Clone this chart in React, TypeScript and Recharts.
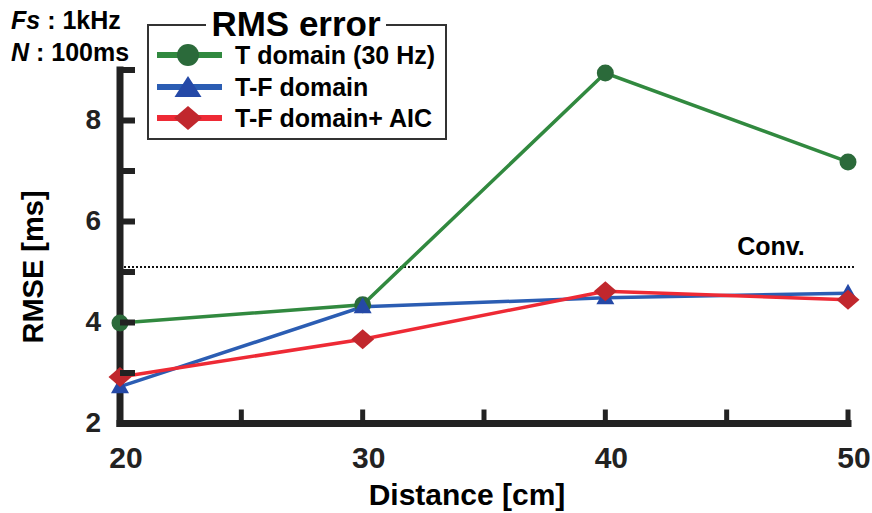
import React from 'react';
import { LineChart, Line, XAxis, YAxis, ReferenceLine, Legend, Label } from 'recharts';

const distances = [20, 30, 40, 50];
const tDomain = [3.99, 4.35, 8.94, 7.18];
const tfDomain = [2.73, 4.31, 4.49, 4.58];
const tfDomainAic = [2.92, 3.67, 4.62, 4.45];
const convValue = 5.1;
const xTicks = [20, 25, 30, 35, 40, 45, 50];
const xLabeled = [20, 30, 40, 50];
const yTicks = [2, 3, 4, 5, 6, 7, 8, 9];
const yLabeled = [2, 4, 6, 8];
const seriesNames = ['T domain (30 Hz)', 'T-F domain', 'T-F domain+ AIC'];

const data = distances.map((d, i) => ({
  d,
  t: tDomain[i],
  tf: tfDomain[i],
  aic: tfDomainAic[i],
}));

const FONT = '"Liberation Sans", Arial, Helvetica, sans-serif';
const AXIS = '#222';

const GREEN_LINE = '#31893f';
const GREEN_MARK = '#2b6a3a';
const BLUE_LINE = '#2b5db3';
const BLUE_MARK = '#2549a7';
const RED_LINE = '#ee2a35';
const RED_MARK = '#c1272d';

const YTick = (props: any) => {
  const { x, y, payload } = props;
  return (
    <g>
      <line x1={x} x2={x + 15} y1={y} y2={y} stroke={AXIS} strokeWidth={6} />
      {yLabeled.includes(payload.value) && (
        <text x={x - 19} y={y + 8} textAnchor="end" fontFamily={FONT} fontWeight={700} fontSize={28} fill={AXIS}>
          {payload.value}
        </text>
      )}
    </g>
  );
};

const XTick = (props: any) => {
  const { x, y, payload } = props;
  return (
    <g>
      <line x1={x} x2={x} y1={y} y2={y - 14} stroke={AXIS} strokeWidth={5} />
      {xLabeled.includes(payload.value) && (
        <text x={x + 6} y={y + 44} textAnchor="middle" fontFamily={FONT} fontWeight={700} fontSize={30} fill={AXIS}>
          {payload.value}
        </text>
      )}
    </g>
  );
};

const circleDot = (p: any) => (
  <circle key={`c${p.index}`} cx={p.cx} cy={p.cy} r={8.5} fill={GREEN_MARK} />
);
const triDot = (p: any) => (
  <polygon
    key={`t${p.index}`}
    points={`${p.cx},${p.cy - 9.5} ${p.cx - 9},${p.cy + 6.5} ${p.cx + 9},${p.cy + 6.5}`}
    fill={BLUE_MARK}
  />
);
const diaDot = (p: any) => (
  <polygon
    key={`d${p.index}`}
    points={`${p.cx},${p.cy - 10} ${p.cx + 11.5},${p.cy} ${p.cx},${p.cy + 10} ${p.cx - 11.5},${p.cy}`}
    fill={RED_MARK}
  />
);

const LegendBox = () => {
  const rows = [55, 87, 118];
  const mx = 188;
  return (
    <svg width={460} height={145} style={{ display: 'block' }}>
      <text x={11} y={29} fontFamily={FONT} fontWeight={700} fontSize={25} fill="#000">
        <tspan fontStyle="italic">Fs</tspan>
        <tspan> : 1kHz</tspan>
      </text>
      <text x={11} y={61} fontFamily={FONT} fontWeight={700} fontSize={25} fill="#000">
        <tspan fontStyle="italic">N</tspan>
        <tspan> : 100ms</tspan>
      </text>
      <rect x={148} y={25} width={298} height={114} fill="#fff" stroke="#333" strokeWidth={2} />
      <rect x={206} y={14} width={180} height={22} fill="#fff" />
      <text x={296} y={36} textAnchor="middle" fontFamily={FONT} fontWeight={700} fontSize={35} fill="#000">
        RMS error
      </text>
      <line x1={157} x2={222} y1={rows[0]} y2={rows[0]} stroke={GREEN_LINE} strokeWidth={6} />
      <circle cx={mx} cy={rows[0]} r={11} fill={GREEN_MARK} />
      <line x1={157} x2={222} y1={rows[1]} y2={rows[1]} stroke={BLUE_LINE} strokeWidth={6} />
      <polygon points={`${mx},${rows[1] - 11} ${mx - 13.5},${rows[1] + 10} ${mx + 13.5},${rows[1] + 10}`} fill={BLUE_MARK} />
      <line x1={157} x2={222} y1={rows[2]} y2={rows[2]} stroke={RED_LINE} strokeWidth={6} />
      <polygon points={`${mx},${rows[2] - 12} ${mx + 14},${rows[2]} ${mx},${rows[2] + 12} ${mx - 14},${rows[2]}`} fill={RED_MARK} />
      {seriesNames.map((n, i) => (
        <text key={n} x={235} y={rows[i] + 9} fontFamily={FONT} fontWeight={700} fontSize={25} fill="#000">
          {n}
        </text>
      ))}
    </svg>
  );
};

const YTitle = () => (
  <text
    x={43}
    y={267}
    transform="rotate(-90, 43, 267)"
    textAnchor="middle"
    fontFamily={FONT}
    fontWeight={700}
    fontSize={29}
    fill="#000"
  >
    RMSE [ms]
  </text>
);

const XTitle = () => (
  <text x={467} y={505} textAnchor="middle" fontFamily={FONT} fontWeight={700} fontSize={30} fill="#000">
    Distance [cm]
  </text>
);

const ConvLabel = (props: any) => {
  const vb = props.viewBox || {};
  return (
    <text x={771} y={(vb.y ?? 266) - 12} textAnchor="middle" fontFamily={FONT} fontWeight={700} fontSize={25} fill="#000">
      Conv.
    </text>
  );
};

export default function App() {
  return (
    <div style={{ position: 'absolute', left: 0, top: 0, width: 872, height: 513, background: '#fff' }}>
      <LineChart width={872} height={513} data={data} margin={{ top: 70, right: 24, left: 40, bottom: 4.5 }}>
        <XAxis
          dataKey="d"
          type="number"
          domain={[20, 50]}
          ticks={xTicks}
          interval={0}
          height={85}
          tickSize={0}
          tickMargin={0}
          tick={<XTick />}
          axisLine={{ stroke: AXIS, strokeWidth: 7, strokeLinecap: 'square' }}
          tickLine={false}
        >
          <Label value="Distance [cm]" content={<XTitle />} />
        </XAxis>
        <YAxis
          type="number"
          domain={[2, 9]}
          ticks={yTicks}
          interval={0}
          width={80}
          tickSize={0}
          tickMargin={0}
          tick={<YTick />}
          axisLine={{ stroke: AXIS, strokeWidth: 7, strokeLinecap: 'square' }}
          tickLine={false}
        >
          <Label value="RMSE [ms]" content={<YTitle />} />
        </YAxis>
        <ReferenceLine
          segment={[
            { x: 20, y: convValue },
            { x: 50.3, y: convValue },
          ]}
          ifOverflow="visible"
          stroke="#111"
          strokeWidth={2}
          strokeDasharray="2 2"
          label={<ConvLabel />}
        />
        <Legend
          layout="horizontal"
          verticalAlign="middle"
          align="center"
          content={<LegendBox />}
          wrapperStyle={{ left: 0, top: 0, width: 460, height: 145 }}
        />
        <Line
          type="linear"
          dataKey="t"
          name={seriesNames[0]}
          stroke={GREEN_LINE}
          strokeWidth={3.5}
          dot={circleDot}
          activeDot={false}
          isAnimationActive={false}
        />
        <Line
          type="linear"
          dataKey="tf"
          name={seriesNames[1]}
          stroke={BLUE_LINE}
          strokeWidth={3.5}
          dot={triDot}
          activeDot={false}
          isAnimationActive={false}
        />
        <Line
          type="linear"
          dataKey="aic"
          name={seriesNames[2]}
          stroke={RED_LINE}
          strokeWidth={3.5}
          dot={diaDot}
          activeDot={false}
          isAnimationActive={false}
        />
      </LineChart>
    </div>
  );
}
